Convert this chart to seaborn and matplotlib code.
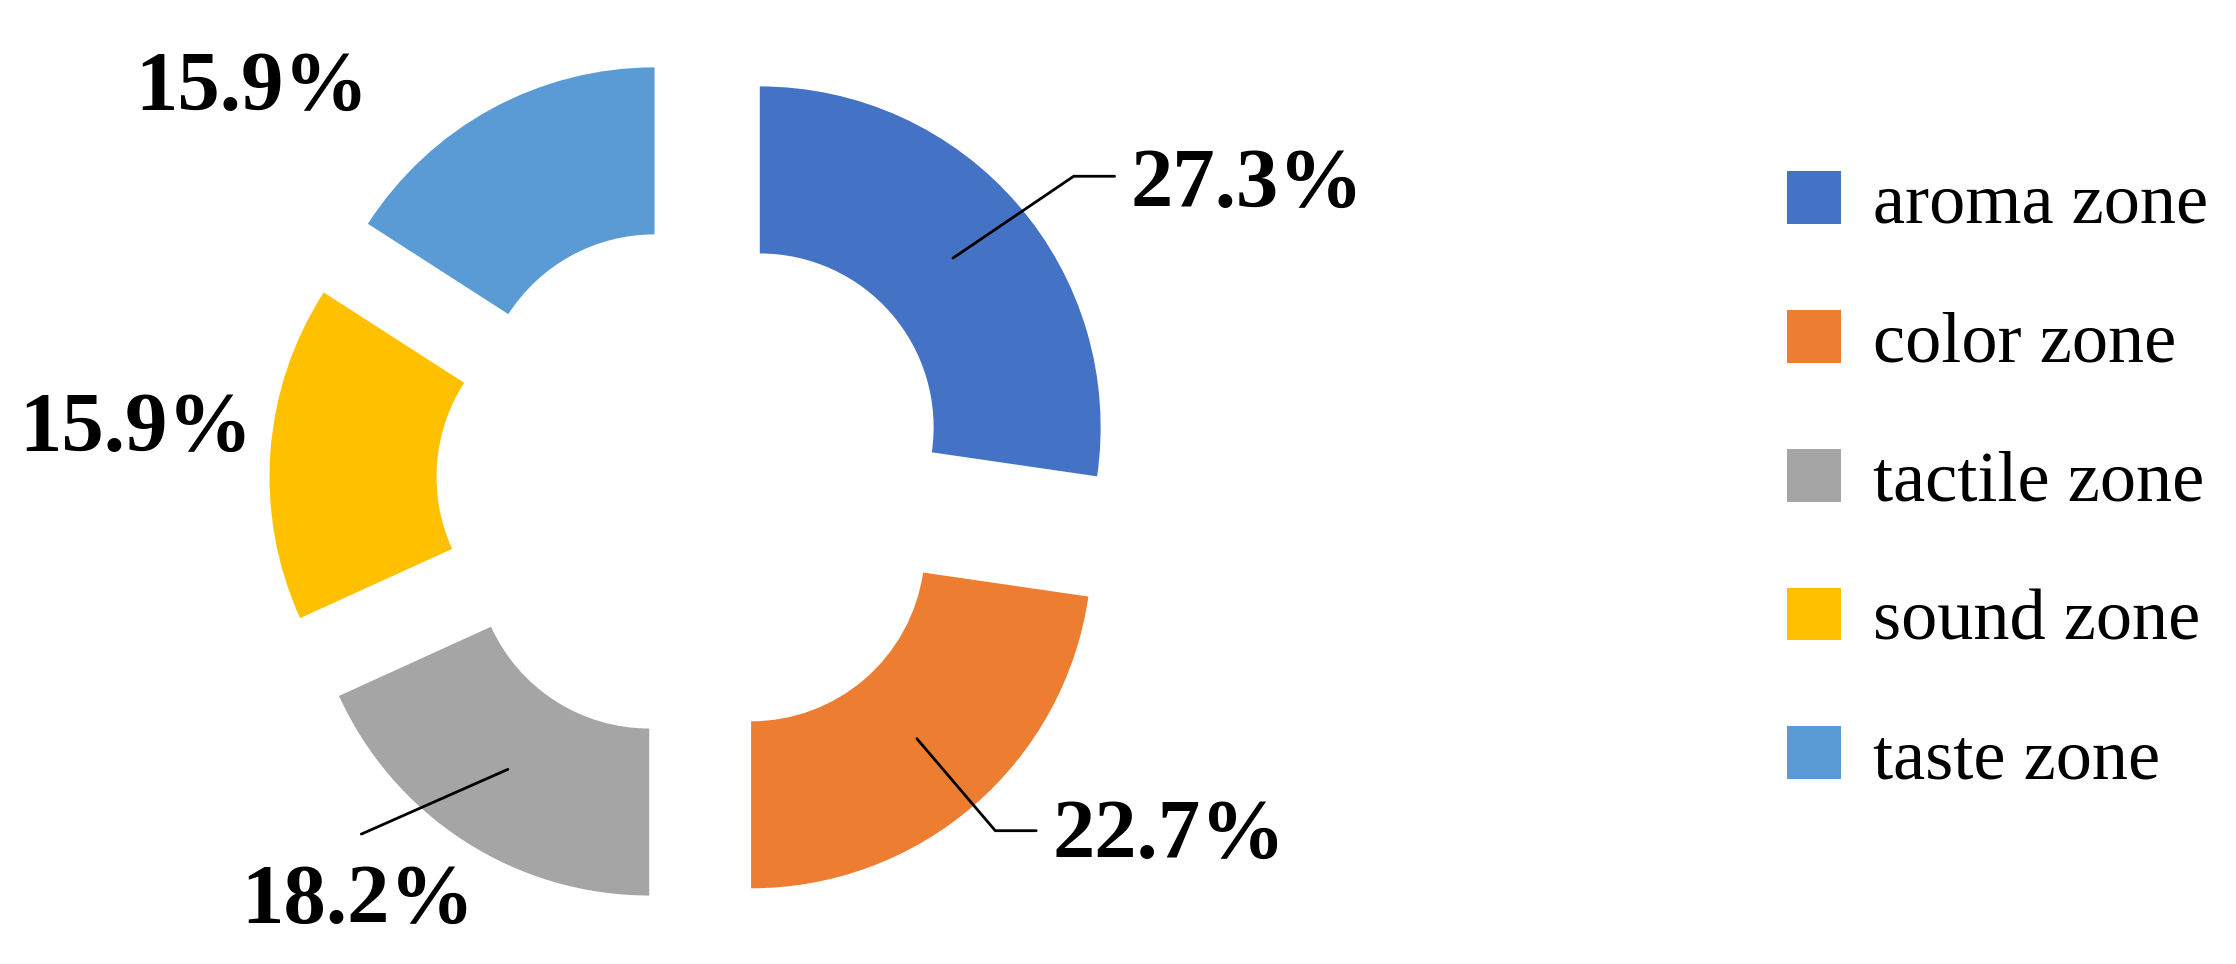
import matplotlib
matplotlib.use("Agg")
import matplotlib.pyplot as plt
import seaborn as sns

sns.set_theme(style="white")
plt.rcParams['font.family'] = ['Liberation Serif', 'DejaVu Serif']
plt.rcParams['text.color'] = 'black'

categories = ["aroma zone", "color zone", "tactile zone", "sound zone", "taste zone"]
values = [27.3, 22.7, 18.2, 15.9, 15.9]
labels = ["27.3%", "22.7%", "18.2%", "15.9%", "15.9%"]
colors = ["#4472C4", "#ED7D31", "#A5A5A5", "#FFC000", "#5B9BD5"]

fig = plt.figure(figsize=(22.36, 9.64), dpi=100)
ax = fig.add_axes([0, 0, 1, 1])
wedges, _ = ax.pie(values, colors=colors, startangle=90, counterclock=False,
                   explode=[0.25] * 5, radius=1,
                   wedgeprops=dict(width=0.49, linewidth=0))
ax.set_xlim(-2.04, 4.52)
ax.set_ylim(-1.41, 1.416)
ax.set_aspect('equal')
ax.axis('off')

tpos = [(1.62, 0.87), (1.39, -1.04), (-0.99, -1.23), (-1.64, 0.155), (-1.30, 1.155)]
lines = [[(0.756, 0.66), (1.11, 0.90), (1.23, 0.90)],
         [(0.65, -0.75), (0.88, -1.02), (1.0, -1.02)],
         [(-0.55, -0.84), (-0.98, -1.03)],
         None, None]
for lab, p, ln in zip(labels, tpos, lines):
    ax.text(p[0], p[1], lab, fontsize=61, fontweight='bold', ha='center', va='center', color='black')
    if ln:
        ax.plot([q[0] for q in ln], [q[1] for q in ln], color='black', lw=2)

leg = ax.legend(wedges, categories, loc='center left', bbox_to_anchor=(0.77, 0.5),
                bbox_transform=fig.transFigure, frameon=False, fontsize=52,
                handlelength=0.75, handleheight=0.75, labelspacing=1.0, handletextpad=0.45)
for t in leg.get_texts():
    t.set_color('black')
fig.savefig("out.png", dpi=100)
